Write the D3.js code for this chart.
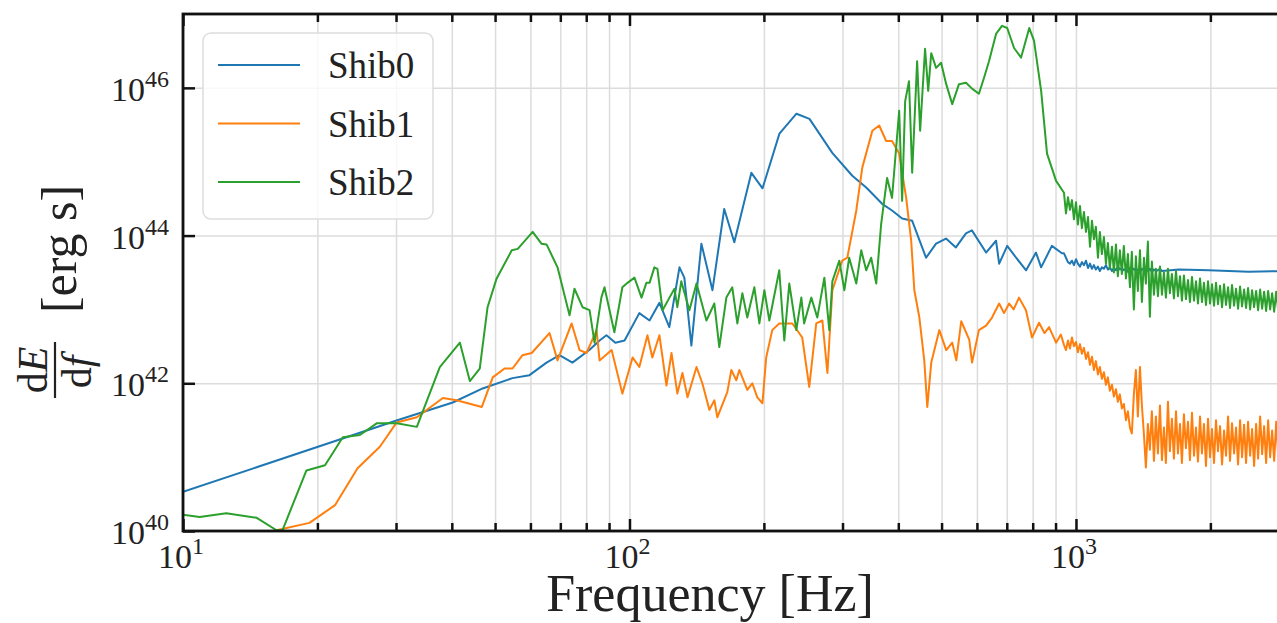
<!DOCTYPE html>
<html>
<head>
<meta charset="utf-8">
<script src="https://cdn.jsdelivr.net/npm/d3@7"></script>
<style>
  body { margin: 0; background: #fff; }
  svg text { font-family: "Liberation Serif", "DejaVu Serif", serif; fill: #222; }
</style>
</head>
<body>
<svg id="chart" width="1277" height="623"></svg>
<script>
// series as [frequency (Hz), log10(dE/df in erg s)]
const shib0 = [
  [10,40.53],[30.2,41.50],[40.2,41.74],[46.9,41.93],[54.7,42.07],[59.7,42.11],[65.2,42.28],[69.7,42.38],
  [74.5,42.28],[81.3,42.45],[85.7,42.58],[88.8,42.65],[93.0,42.55],[97.5,42.58],[105.2,42.95],[110.9,42.85],
  [116.7,43.09],[122.8,42.76],[129.4,43.57],[132.7,43.43],[137.6,42.51],[144.9,43.89],[153.4,43.26],[163.0,44.36],
  [171.7,43.91],[187.5,44.85],[198.6,44.64],[216.7,45.38],[236.6,45.65],[253.0,45.58],[284.6,45.12],[315.5,44.81],
  [339.0,44.65],[368.0,44.43],[387.3,44.34],[408.0,44.23],[429.7,44.20],[461.6,43.70],[486.0,43.89],[511.6,43.96],
  [538.4,43.84],[567.0,44.03],[584.7,44.07],[629.0,43.77],[662.2,43.93],[672.9,43.62],[701.5,43.86],[734.5,43.70],
  [773.3,43.53],[813.6,43.77],[835.6,43.57],[883.1,43.86],[930.3,43.76]
];
const shib0End = [[1700,43.54],[1983,43.53],[2437,43.51],[3000,43.52]];

const shib1 = [
  [16.2,40.01],[19.2,40.11],[21.9,40.35],[24.6,40.85],[27.6,41.14],[30.1,41.47],[33.4,41.54],[38.2,41.80],
  [41.0,41.77],[46.7,41.68],[49.4,42.08],[52.5,42.20],[54.7,42.20],[57.6,42.38],[60.4,42.41],[66.2,42.68],
  [69.0,42.31],[74.2,42.81],[77.3,42.45],[80.1,42.41],[84.4,42.72],[85.7,42.31],[91.2,42.45],[96.4,41.86],
  [101.6,42.35],[105.2,42.22],[109.7,42.65],[112.5,42.35],[116.7,42.65],[121.0,41.97],[124.2,42.41],[128.0,41.86],
  [131.4,42.14],[134.9,41.81],[141.3,42.22],[145.6,42.00],[151.0,41.64],[154.9,41.77],[157.3,41.54],[165.6,41.88],
  [169.1,42.18],[173.5,42.04],[176.2,42.18],[183.6,41.91],[188.4,42.00],[193.3,41.81],[198.5,41.73],[202.4,42.35],
  [208.8,42.72],[216.5,42.81],[231.6,42.81],[243.7,42.62],[252.7,41.95],[262.0,42.81],[270.4,42.85],[277.5,42.14],
  [284.7,43.26],[299.6,43.66],[307.5,43.70],[322.1,44.34],[332.2,44.92],[349.9,45.42],[362.5,45.49],[375.8,45.28],
  [387.3,45.28],[401.8,45.11],[416.6,44.51],[427.5,43.93],[434.5,43.26],[445.9,42.89],[457.3,42.31],[464.5,41.68],
  [474.1,42.28],[494.3,42.72],[512.1,42.45],[528.3,42.55],[539.5,42.31],[553.4,42.84],[576.7,42.59],[585.1,42.28],
  [606.2,42.72],[629.0,42.78],[648.6,42.89],[672.9,43.08],[690,42.95],[708.5,43.08],[725,43.00],[745.5,43.16],
  [772.7,42.99],[797.1,42.62],[826.7,42.82],[850,42.68],[870.4,42.76],[902.5,42.55],[925,42.66]
];

const shib2 = [
  [10,40.22],[10.9,40.19],[12.5,40.24],[14.6,40.18],[16.2,40.01],[16.7,40.01],[18.9,40.82],[20.8,40.89],
  [22.8,41.27],[24.9,41.30],[27.2,41.46],[30.1,41.46],[33.4,41.41],[37.6,42.22],[41.7,42.55],[43.9,42.03],
  [46.2,42.20],[48.1,43.03],[50.4,43.42],[54.5,43.80],[56.2,43.82],[60.7,44.05],[63.5,43.89],[65.2,43.88],
  [69.0,43.57],[73.4,42.92],[75.3,43.28],[78.5,43.03],[81.4,42.99],[83.5,42.55],[86.5,43.16],[87.9,43.30],
  [92.5,42.69],[96.4,43.30],[99.0,43.36],[102.6,43.43],[106.4,43.16],[109.1,43.36],[110.9,43.36],[113.7,43.57],
  [115.5,43.55],[118.6,42.99],[122.9,43.16],[126.1,43.28],[128.0,43.03],[130.6,43.38],[136.2,42.99],[141.3,43.35],
  [148.7,42.85],[154.9,43.08],[158.9,42.49],[164.8,43.16],[169.9,43.30],[174.4,42.81],[179.0,43.22],[183.6,42.89],
  [190.4,43.30],[195.4,42.81],[200.5,43.26],[205.7,42.85],[216.5,43.53],[222.2,42.58],[228.0,43.35],[236.4,42.72],
  [242.6,43.16],[246.1,42.81],[255.4,43.16],[263.4,42.89],[273.2,43.43],[280.2,42.72],[284.7,43.38],[295.1,43.66],
  [302.9,43.26],[310.5,43.70],[322.1,43.35],[330.4,43.80],[339.0,43.53],[347.8,43.70],[357.0,43.35],[366.2,44.16],
  [377.6,44.78],[387.3,44.51],[401.8,45.69],[408.0,44.47],[414.4,45.82],[422.7,46.09],[429.7,44.85],[440.8,46.36],
  [447.7,45.42],[459.2,46.53],[466.7,45.96],[474.1,46.47],[486.0,46.27],[498.8,46.34],[512.1,46.05],[528.3,45.78],
  [547.0,46.05],[567.2,46.07],[585.1,45.99],[606.2,45.92],[622.7,46.14],[638.6,46.36],[662.2,46.73],[682.8,46.84],
  [701.5,46.81],[726.6,46.54],[753.5,46.41],[785.9,46.81],[805.4,46.64],[835.6,45.96],[861.4,45.11],[902.5,44.74]
];

// dense high-frequency tails, read on a common frequency grid (Hz)
const tailFreq = [
  940, 949.7, 959.6, 969.5, 979.5, 989.7, 1000, 1010, 1021, 1031,
  1042, 1053, 1064, 1075, 1086, 1097, 1108, 1120, 1131, 1143,
  1155, 1167, 1179, 1191, 1204, 1216, 1229, 1241, 1254, 1267,
  1280, 1294, 1307, 1321, 1334, 1348, 1362, 1376, 1391, 1405,
  1420, 1434, 1449, 1464, 1479, 1495, 1510, 1526, 1542, 1558,
  1574, 1590, 1607, 1623, 1640, 1657, 1675, 1692, 1710, 1727,
  1745, 1763, 1782, 1800, 1819, 1838, 1857, 1876, 1896, 1915,
  1935, 1955, 1976, 1996, 2017, 2038, 2059, 2080, 2102, 2124,
  2146, 2168, 2191, 2213, 2236, 2260, 2283, 2307, 2331, 2355,
  2380, 2404, 2429, 2455, 2480, 2506, 2532, 2558, 2585, 2612,
  2639, 2666, 2694, 2722, 2750, 2779, 2808, 2837, 2866, 2896,
  2926, 2957, 2988, 3019
];
const shib0Tail = [
  43.76,43.70,43.64,43.62,43.66,43.60,43.68,43.62,43.58,43.64,
  43.60,43.66,43.56,43.62,43.55,43.60,43.54,43.58,43.52,43.57,
  43.55,43.60,43.54,43.57,43.52,43.56,43.53,43.58,43.54,43.56,
  43.53,43.55,43.51,43.56,43.53,43.55,43.52,43.54,43.50,43.55,
  43.53,43.54,43.52,43.55,43.51,43.54,43.52,43.53,43.55,43.52
];
const shib1Tail = [
  42.52,42.45,42.58,42.47,42.62,42.50,42.56,42.42,42.53,42.40,
  42.48,42.33,42.42,42.25,42.36,42.18,42.30,42.12,42.22,42.06,
  42.15,41.98,42.08,41.90,41.98,41.82,41.92,41.75,41.85,41.66,
  41.72,41.50,41.62,41.40,41.32,41.85,42.18,41.55,42.22,41.70,
  41.30,40.86,41.45,41.10,41.62,40.95,41.55,41.05,41.70,40.96,
  41.40,40.92,41.75,41.08,41.52,40.98,41.62,41.05,41.45,40.92,
  41.58,41.12,41.48,40.96,41.60,41.02,41.40,40.94,41.55,41.05,
  41.45,40.88,41.52,41.00,41.38,40.92,41.50,41.08,41.42,40.90,
  41.36,41.02,41.55,40.95,41.46,41.05,41.40,40.90,41.50,41.00,
  41.44,40.92,41.48,41.02,41.38,40.88,41.45,40.98,41.55,41.04,
  41.42,40.92,41.50,41.00,41.36,40.95,41.48,41.02,41.40,40.88,
  41.46,40.98,41.42,41.00
];
const shib2Tail = [
  44.58,44.30,44.52,44.35,44.48,44.22,44.45,44.15,44.40,44.10,
  44.32,44.05,44.25,43.85,44.20,43.95,44.12,43.70,44.05,43.75,
  43.98,43.62,43.90,43.55,43.85,43.50,43.88,43.45,43.80,43.48,
  43.86,43.42,43.75,43.30,43.78,43.00,43.72,43.25,43.80,43.10,
  43.70,43.35,43.92,42.90,43.65,43.20,43.55,43.18,43.58,43.20,
  43.50,43.16,43.55,43.22,43.48,43.15,43.52,43.18,43.45,43.12,
  43.46,43.14,43.40,43.10,43.44,43.12,43.38,43.08,43.42,43.10,
  43.36,43.06,43.38,43.08,43.34,43.05,43.36,43.07,43.32,43.03,
  43.34,43.06,43.30,43.02,43.33,43.05,43.28,43.01,43.31,43.04,
  43.27,43.02,43.29,43.00,43.26,43.03,43.25,42.99,43.27,43.01,
  43.24,42.98,43.25,43.00,43.22,42.97,43.24,42.99,43.21,42.98,
  43.22,42.97,43.20,42.98
];

const seriesNames = ["Shib0", "Shib1", "Shib2"];
const seriesColors = ["#1f77b4", "#ff7f0e", "#2ca02c"];

const xDomain = [10, 3000];
const yDomain = [1e40, 1e47];
const xMajor = [10, 100, 1000];
const xMinor = [20, 30, 40, 50, 60, 70, 80, 90, 200, 300, 400, 500, 600, 700, 800, 900, 2000, 3000];
const yMajor = [1e40, 1e42, 1e44, 1e46];

const margin = { left: 183, right: 1289, top: 14, bottom: 531 };

const svg = d3.select("#chart");

const x = d3.scaleLog().domain(xDomain).range([margin.left, margin.right]);
const y = d3.scaleLog().domain(yDomain).range([margin.bottom, margin.top]);
const plotW = margin.right - margin.left;
const plotH = margin.bottom - margin.top;

const withTail = (head, tail, end) =>
  head.concat(tail.map((v, i) => [tailFreq[i], v]), end || []);

const seriesData = [
  withTail(shib0, shib0Tail, shib0End),
  withTail(shib1, shib1Tail),
  withTail(shib2, shib2Tail)
];

// grid
const grid = svg.append("g").attr("class", "grid");
grid.append("g")
  .attr("transform", `translate(0,${margin.bottom})`)
  .call(d3.axisBottom(x).tickValues(xMajor.concat(xMinor)).tickSize(-plotH).tickFormat(""));
grid.append("g")
  .attr("transform", `translate(${margin.left},0)`)
  .call(d3.axisLeft(y).tickValues(yMajor).tickSize(-plotW).tickFormat(""));
grid.selectAll(".domain").remove();
grid.selectAll("line").attr("stroke", "#dcdcdc").attr("stroke-width", 1.5);

// lines
svg.append("clipPath").attr("id", "plotClip")
  .append("rect")
  .attr("x", margin.left).attr("y", margin.top)
  .attr("width", plotW).attr("height", plotH);

const line = d3.line()
  .x(d => x(d[0]))
  .y(d => y(Math.pow(10, d[1])));

const lines = svg.append("g").attr("clip-path", "url(#plotClip)");
seriesData.forEach((s, i) => {
  lines.append("path")
    .datum(s)
    .attr("d", line)
    .attr("fill", "none")
    .attr("stroke", seriesColors[i])
    .attr("stroke-width", 2)
    .attr("stroke-linejoin", "round");
});

// ticks on all four sides, pointing inward
const ticks = svg.append("g").attr("class", "ticks");
ticks.append("g").attr("transform", `translate(0,${margin.bottom})`)
  .call(d3.axisBottom(x).tickValues(xMajor).tickSize(-12).tickFormat(""));
ticks.append("g").attr("transform", `translate(0,${margin.bottom})`)
  .call(d3.axisBottom(x).tickValues(xMinor).tickSize(-8).tickFormat(""));
ticks.append("g").attr("transform", `translate(0,${margin.top})`)
  .call(d3.axisTop(x).tickValues(xMajor).tickSize(-12).tickFormat(""));
ticks.append("g").attr("transform", `translate(0,${margin.top})`)
  .call(d3.axisTop(x).tickValues(xMinor).tickSize(-8).tickFormat(""));
ticks.append("g").attr("transform", `translate(${margin.left},0)`)
  .call(d3.axisLeft(y).tickValues(yMajor).tickSize(-12).tickFormat(""));
ticks.append("g").attr("transform", `translate(${margin.right},0)`)
  .call(d3.axisRight(y).tickValues(yMajor).tickSize(-12).tickFormat(""));
ticks.selectAll(".domain").remove();
ticks.selectAll("line").attr("stroke", "#111").attr("stroke-width", 2.5);

// frame
svg.append("rect")
  .attr("x", margin.left).attr("y", margin.top)
  .attr("width", plotW).attr("height", plotH)
  .attr("fill", "none").attr("stroke", "#111").attr("stroke-width", 2.8);

// tick labels 10^n
function powLabel(g, px, py, anchor, exp) {
  const t = g.append("text").attr("x", px).attr("y", py)
    .attr("text-anchor", anchor).attr("font-size", 34);
  t.append("tspan").text("10");
  t.append("tspan").attr("dy", -14).attr("font-size", 24).text(exp);
}
const labels = svg.append("g");
xMajor.forEach(v => powLabel(labels, x(v) - 2, 568, "middle", String(Math.round(Math.log10(v)))));
yMajor.forEach(v => powLabel(labels, 169, y(v) + 13, "end", String(Math.round(Math.log10(v)))));

// axis titles
svg.append("text")
  .attr("x", 710).attr("y", 611)
  .attr("text-anchor", "middle")
  .attr("font-size", 52)
  .text("Frequency [Hz]");

const yTitle = svg.append("g").attr("transform", "rotate(-90)");
yTitle.append("text")
  .attr("x", -249).attr("y", 76)
  .attr("text-anchor", "middle").attr("font-size", 50)
  .text("[erg s]");
const num = yTitle.append("text")
  .attr("x", -370).attr("y", 47)
  .attr("text-anchor", "middle").attr("font-size", 42);
num.append("tspan").text("d");
num.append("tspan").attr("font-style", "italic").text("E");
yTitle.append("line")
  .attr("x1", -398).attr("x2", -342)
  .attr("y1", 55).attr("y2", 55)
  .attr("stroke", "#222").attr("stroke-width", 2.2);
const den = yTitle.append("text")
  .attr("x", -372).attr("y", 91)
  .attr("text-anchor", "middle").attr("font-size", 42);
den.append("tspan").text("d");
den.append("tspan").attr("font-style", "italic").text("f");

// legend
const legend = svg.append("g");
legend.append("rect")
  .attr("x", 203).attr("y", 33).attr("width", 230).attr("height", 186).attr("rx", 8)
  .attr("fill", "rgba(255,255,255,0.8)").attr("stroke", "#dddddd").attr("stroke-width", 1.5);
const legendY = d3.scalePoint().domain(seriesNames).range([65, 182]);
seriesNames.forEach((name, i) => {
  const ly = legendY(name);
  legend.append("line")
    .attr("x1", 218).attr("x2", 300).attr("y1", ly).attr("y2", ly)
    .attr("stroke", seriesColors[i]).attr("stroke-width", 2);
  legend.append("text")
    .attr("x", 328).attr("y", ly + 13)
    .attr("font-size", 37)
    .text(name);
});
</script>
</body>
</html>
